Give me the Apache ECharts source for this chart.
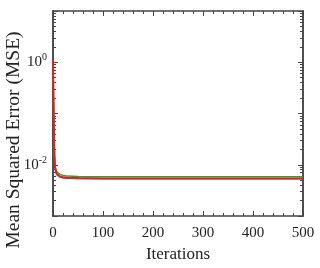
<!DOCTYPE html>
<html><head><meta charset="utf-8">
<script src="https://cdn.jsdelivr.net/npm/echarts@6/dist/echarts.min.js"></script>
<style>html,body{margin:0;padding:0;background:#fff}#c{width:320px;height:268px}</style>
</head><body><div id="c"></div>
<script>
const xTicks = [0, 100, 200, 300, 400, 500];
const yLabelValues = [0.01, 1];
const yMajorTicks = [0.001, 0.01, 0.1, 1, 10];
const yMinorTicks = [0.002,0.003,0.004,0.005,0.006,0.007,0.008,0.009,
  0.02,0.03,0.04,0.05,0.06,0.07,0.08,0.09,
  0.2,0.3,0.4,0.5,0.6,0.7,0.8,0.9,
  2,3,4,5,6,7,8,9];
const xTitle = 'Iterations';
const yTitle = 'Mean Squared Error (MSE)';
const iterations = [0, 1, 2, 3, 4, 6, 8, 10, 14, 20, 30, 50, 100, 200, 300, 400, 500];
const mseRed   = [1.1, 0.2, 0.04, 0.015, 0.009, 0.0072, 0.0065, 0.0062, 0.0059, 0.0057, 0.0056, 0.0055, 0.0054, 0.0054, 0.0054, 0.0054, 0.0054];
const mseGreen = [1.0, 0.18, 0.036, 0.014, 0.0095, 0.0080, 0.0073, 0.0069, 0.0065, 0.0062, 0.0060, 0.0059, 0.0058, 0.0058, 0.0058, 0.0058, 0.0058];
const mseBlue  = [1.05, 0.19, 0.038, 0.0145, 0.0088, 0.0070, 0.0063, 0.0060, 0.0057, 0.0055, 0.0054, 0.0053, 0.0053, 0.0053, 0.0053, 0.0053, 0.0053];

const pair = a => iterations.map((x, i) => [x, a[i]]);
const font = 'Liberation Serif';
const lineC = '#444';
const txtC = '#222';
const axisLine = {show: true, onZero: false, lineStyle: {color: lineC, width: 1.5}};

function yAxis(pos, ticks, len, labels) {
  return {
    type: 'log', logBase: 10, min: 0.001, max: 10, position: pos,
    axisLine: axisLine,
    axisTick: {show: true, inside: true, length: len, customValues: ticks, lineStyle: {color: lineC, width: 1}},
    axisLabel: labels ? {
      show: true, customValues: yLabelValues, margin: 6, fontFamily: font, color: txtC,
      formatter: v => '{b|10}{s|' + Math.round(Math.log10(v)) + '}',
      rich: {b: {fontSize: 15, fontFamily: font, color: txtC}, s: {fontSize: 10, fontFamily: font, color: txtC, verticalAlign: 'top', padding: [0,0,9,0]}}
    } : {show: false},
    splitLine: {show: false}
  };
}

function xAxis(pos, labels) {
  return {
    type: 'value', min: 0, max: 500, interval: 100, position: pos,
    axisLine: axisLine,
    axisTick: {show: true, inside: true, length: 5, lineStyle: {color: lineC, width: 1}},
    minorTick: {show: true, splitNumber: 5, length: 3, lineStyle: {color: lineC, width: 1}},
    axisLabel: labels ? {show: true, margin: 10, fontFamily: font, fontSize: 15, color: txtC, customValues: xTicks} : {show: false},
    splitLine: {show: false}, minorSplitLine: {show: false},
    name: labels ? xTitle : '', nameLocation: 'middle', nameGap: 30,
    nameTextStyle: {fontFamily: font, fontSize: 17, color: txtC}
  };
}

const chart = echarts.init(document.getElementById('c'), null, {renderer: 'canvas'});
chart.setOption({
  animation: false,
  grid: {left: 53, right: 17, top: 11, bottom: 46, containLabel: false},
  xAxis: [xAxis('bottom', true), xAxis('top', false)],
  yAxis: [yAxis('left', yMajorTicks, 5, true), yAxis('left', yMinorTicks, 3, false),
          yAxis('right', yMajorTicks, 5, false), yAxis('right', yMinorTicks, 3, false)],
  graphic: [{
    type: 'text', x: 14, y: 140, rotation: Math.PI / 2,
    style: {text: yTitle, fontFamily: font, fontSize: 19.5, fill: txtC, align: 'center', verticalAlign: 'middle'}
  }],
  series: [
    {type: 'line', data: pair(mseBlue), showSymbol: false, lineStyle: {color: '#7a3fb0', width: 1}, z: 2},
    {type: 'line', data: pair(mseGreen), showSymbol: false, lineStyle: {color: '#22aa22', width: 1.5}, z: 3},
    {type: 'line', data: pair(mseRed), showSymbol: false, lineStyle: {color: '#e0201c', width: 2}, z: 4}
  ]
});
</script></body></html>
